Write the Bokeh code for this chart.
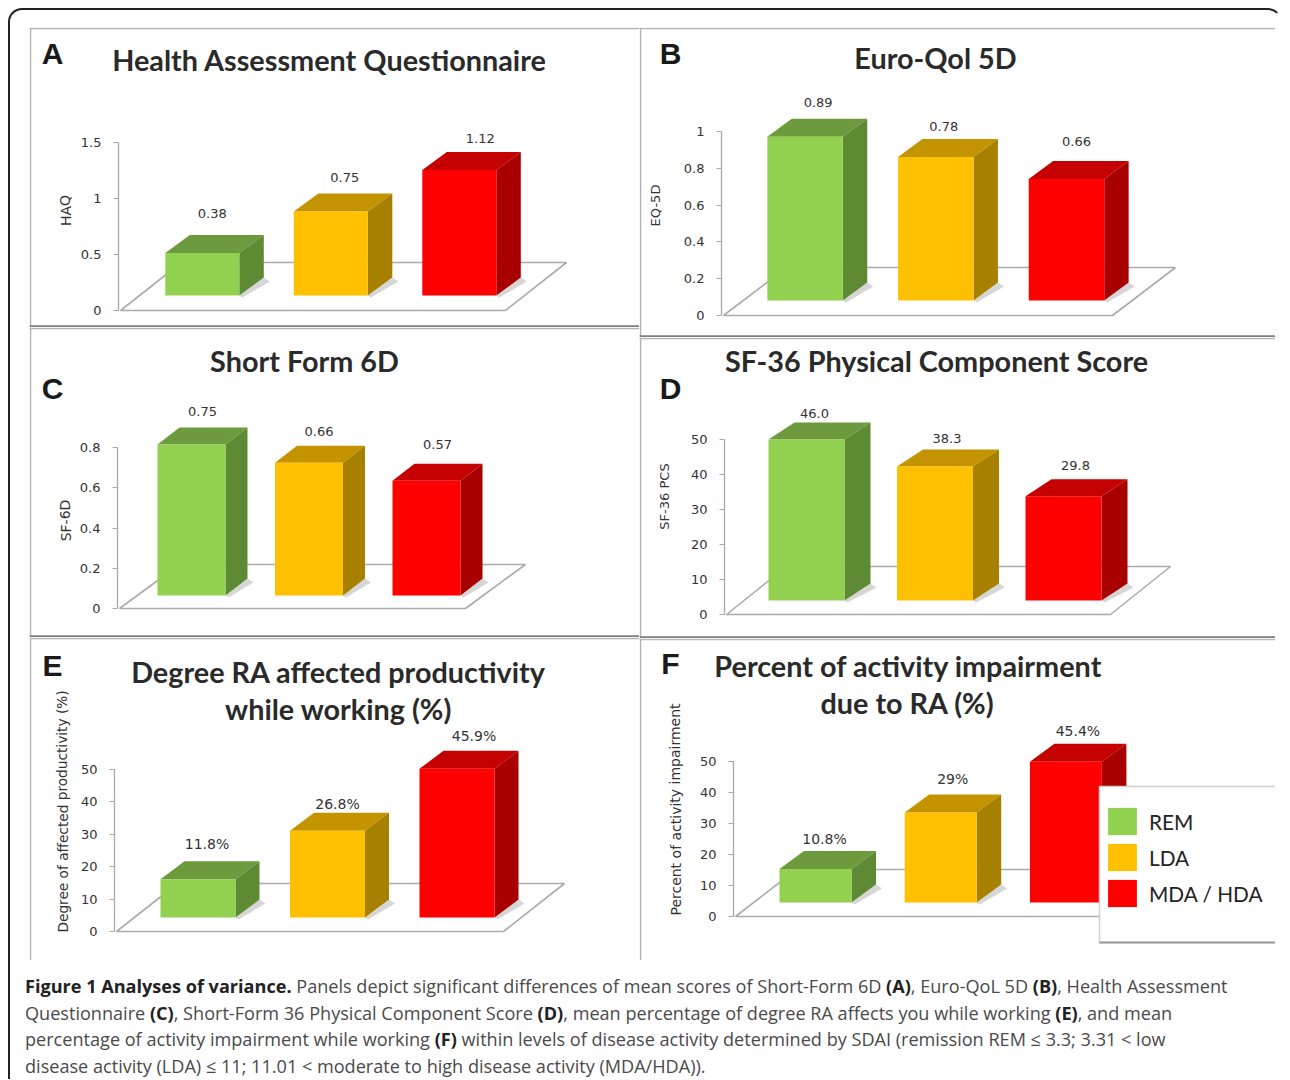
from bokeh.plotting import figure
from bokeh.layouts import column, row
from bokeh.models import Range1d, FixedTicker, Div, Legend
from bokeh.core.properties import value
from bokeh.embed import file_html
from bokeh.resources import INLINE

# ---- data ----
groups = ["REM", "LDA", "MDA / HDA"]
haq_values = [0.38, 0.75, 1.12]
eq5d_values = [0.89, 0.78, 0.66]
sf6d_values = [0.75, 0.66, 0.57]
pcs_values = [46.0, 38.3, 29.8]
productivity_values = [11.8, 26.8, 45.9]
impairment_values = [10.8, 29.0, 45.4]

haq_labels = ["0.38", "0.75", "1.12"]
eq5d_labels = ["0.89", "0.78", "0.66"]
sf6d_labels = ["0.75", "0.66", "0.57"]
pcs_labels = ["46.0", "38.3", "29.8"]
productivity_labels = ["11.8%", "26.8%", "45.9%"]
impairment_labels = ["10.8%", "29%", "45.4%"]

haq_ticks = [0, 0.5, 1, 1.5]
haq_ticklabels = ["0", "0.5", "1", "1.5"]
eq5d_ticks = [0, 0.2, 0.4, 0.6, 0.8, 1]
eq5d_ticklabels = ["0", "0.2", "0.4", "0.6", "0.8", "1"]
sf6d_ticks = [0, 0.2, 0.4, 0.6, 0.8]
sf6d_ticklabels = ["0", "0.2", "0.4", "0.6", "0.8"]
pct_ticks = [0, 10, 20, 30, 40, 50]
pct_ticklabels = ["0", "10", "20", "30", "40", "50"]

FRONT = ["#92D050", "#FFC000", "#FF0000"]
TOP = ["#6C9A3C", "#C49400", "#C40000"]
SIDE = ["#5E8A34", "#A88000", "#A80000"]
TITLE_FONT = "Lato"
NUM_FONT = "DejaVu Sans"
TXT = "#2a2a2a"
TS = "28.8px"


def panel(left, right, top, bottom, axis_x, y0, ymax_px, ymax, ticks, ticklabels, first_c, step,
          bar_w, bar_bottom, dx, dy, floor, vals, labels, label_off, title_lines, letter, letter_xy,
          ylabel, ylabel_xy, ylabel_size, num_size="13px", edges=("left", "top", "bottom")):
    s = (y0 - ymax_px) / ymax
    X = lambda px: (px - first_c) / step
    Y = lambda py: (y0 - py) / s
    p = figure(width=right - left, height=bottom - top, output_backend="svg", toolbar_location=None,
               x_range=Range1d(X(left), X(right)), y_range=Range1d(Y(bottom), Y(top)),
               x_axis_location=None, min_border=0, min_border_left=0, min_border_right=0,
               min_border_top=0, min_border_bottom=0, background_fill_color="white",
               border_fill_color="white", outline_line_color=None, tools="")
    p.grid.visible = False
    ax = p.yaxis[0]
    ax.fixed_location = X(axis_x)
    ax.ticker = FixedTicker(ticks=ticks)
    ax.major_label_overrides = dict(zip(ticks, ticklabels))
    ax.bounds = (0, ymax)
    ax.axis_line_color = "#a8a8a8"
    ax.axis_line_width = 1.3
    ax.major_tick_line_color = "#a8a8a8"
    ax.major_tick_out = 5
    ax.major_tick_in = 0
    ax.minor_tick_line_color = None
    ax.major_label_text_font = NUM_FONT
    ax.major_label_text_font_size = "13px"
    ax.major_label_text_color = "#333333"
    ax.major_label_standoff = 12

    # panel frame lines
    e = 1
    lines = {"left": ([left + e, left + e], [top, bottom]),
             "top": ([left, right], [top + e, top + e]),
             "bottom": ([left, right], [bottom - e, bottom - e])}
    for name in edges:
        xs, ys = lines[name]
        p.line([X(v) for v in xs], [Y(v) for v in ys],
               line_color="#7f7f7f" if name == "bottom" else "#b4b4b4",
               line_width=2.5 if name == "bottom" else 1.5)

    # floor of the 3D chart
    fl, fr, br, by = floor
    floor_x = [X(axis_x + 2), X(fr), X(br), X(axis_x + 2 + (br - fr))]
    floor_y = [0, 0, Y(by), Y(by)]
    p.patch(floor_x, floor_y, fill_color="white", line_color="#ababab", line_width=1.6)

    base = Y(bar_bottom)
    w = bar_w / step
    ddx = dx / step
    ddy = dy / s
    fronts = []
    for i, v in enumerate(vals):
        lft, rgt, tp = i - w / 2, i + w / 2, base + v
        # soft shadow on the floor
        p.patch([rgt, rgt + ddx, rgt + ddx + 6 / step, rgt + 3 / step],
                [base, base + ddy, base + ddy - 4 / s, base - 2 / s],
                fill_color="#d6d6d6", line_color=None)
        p.patch([lft, rgt, rgt + ddx, lft + ddx], [tp, tp, tp + ddy, tp + ddy],
                fill_color=TOP[i], line_color=None)
        p.patch([rgt, rgt + ddx, rgt + ddx, rgt], [base, base + ddy, tp + ddy, tp],
                fill_color=SIDE[i], line_color=None)
        fronts.append(p.vbar(x=[i], width=w, bottom=[base], top=[tp], fill_color=FRONT[i], line_color=None))
        ox, oy = label_off[i]
        p.text(x=[i + ox / step], y=[tp + oy / s], text=[labels[i]], text_font=value(NUM_FONT),
               text_font_size=num_size, text_color="#333333", text_align="center", text_baseline="middle")

    for txt, (cx, cy), size in title_lines:
        p.text(x=[X(cx)], y=[Y(cy)], text=[txt], text_font=value(TITLE_FONT), text_font_size=size,
               text_font_style="bold", text_color=TXT, text_align="center", text_baseline="middle")
    p.text(x=[X(letter_xy[0])], y=[Y(letter_xy[1])], text=[letter], text_font=value("Liberation Sans"),
           text_font_size="30px", text_font_style="bold", text_color="#1a1a1a",
           text_align="center", text_baseline="middle")
    p.text(x=[X(ylabel_xy[0])], y=[Y(ylabel_xy[1])], text=[ylabel], text_font=value(NUM_FONT),
           text_font_size=ylabel_size, text_color="#333333", text_align="center", text_baseline="middle",
           angle=1.5708)
    return p, fronts, X, Y


pA, _, _, _ = panel(29, 639, 27, 327, 118, 310, 142, 1.5, haq_ticks, haq_ticklabels, 201.8, 128.5, 74, 295, 24.5, 18,
                    (120, 505, 566, 262), haq_values, haq_labels, [(10, 39), (14, 34), (21, 32)],
                    [("Health Assessment Questionnaire", (329, 59), TS)], "A", (52, 53), "HAQ", (65, 210), "14px")
pC, _, _, _ = panel(29, 639, 327, 637, 117, 608, 447, 0.8, sf6d_ticks, sf6d_ticklabels, 191, 117.5, 68, 595, 22, 17,
                    (118, 465, 525, 564), sf6d_values, sf6d_labels, [(11, 33), (10, 31), (11, 36)],
                    [("Short Form 6D", (304, 360), TS)], "C", (52, 388), "SF-6D", (65, 520), "14px")
pE, _, _, _ = panel(29, 639, 637, 960, 114, 931, 769, 50, pct_ticks, pct_ticklabels, 197.5, 129.5, 75, 917, 24, 18,
                    (115, 503, 564, 883), productivity_values, productivity_labels, [(9, 35), (10, 27), (17, 33)],
                    [("Degree RA affected productivity", (338, 671), TS), ("while working (%)", (338, 708), TS)],
                    "E", (52, 665), "Degree of affected productivity (%)", (62, 811), "13.7px", "14px", ("left", "top"))
pB, _, _, _ = panel(639, 1275, 27, 337, 721, 315, 131, 1, eq5d_ticks, eq5d_ticklabels, 804.6, 130.7, 75.5, 300, 24.4, 18,
                    (722, 1112, 1175, 267), eq5d_values, eq5d_labels, [(13, 34), (8, 30), (10, 38)],
                    [("Euro-Qol 5D", (935, 57), TS)], "B", (670, 53), "EQ-5D", (655, 205), "13px")
pD, _, _, _ = panel(639, 1275, 337, 638, 724, 614, 439, 50, pct_ticks, pct_ticklabels, 806, 128.5, 76, 600, 26, 17,
                    (725, 1110, 1170, 566), pcs_values, pcs_labels, [(8, 26), (12, 28), (12, 31)],
                    [("SF-36 Physical Component Score", (936, 360), TS)], "D", (670, 388), "SF-36 PCS", (664, 496), "13px")
pF, fronts, XF, YF = panel(639, 1275, 638, 960, 733, 916, 761, 50, pct_ticks, pct_ticklabels, 815, 125.2, 72, 902, 24.5, 18,
                    (735, 1100, 1161, 869), impairment_values, impairment_labels, [(9, 30), (12, 34), (12, 31)],
                    [("Percent of activity impairment", (908, 665), TS), ("due to RA (%)", (907, 702), TS)],
                    "F", (670, 663), "Percent of activity impairment", (675, 809), "14px", "14px", ("left", "top"))

# legend box of panel F
pF.quad(left=[XF(1099)], right=[XF(1290)], top=[YF(786)], bottom=[YF(942)], fill_color="white",
        line_color="#cfcfcf", line_width=1.5)
pF.line([XF(1099), XF(1275)], [YF(942), YF(942)], line_color="#9a9a9a", line_width=2)
legend = Legend(items=[(groups[i], [fronts[i]]) for i in range(3)], location=(460, 45),
                background_fill_alpha=0, border_line_alpha=0, padding=5, margin=0, spacing=2,
                glyph_width=36, glyph_height=34, label_standoff=9, label_height=34,
                label_text_font=TITLE_FONT, label_text_font_size="20.8px", label_text_color="#222222")
pF.add_layout(legend)

caption_html = (
    "<b style='color:#222'>Figure 1 Analyses of variance.</b> Panels depict significant differences of mean scores of "
    "Short-Form 6D <b style='color:#222'>(A)</b>, Euro-QoL 5D <b style='color:#222'>(B)</b>, Health Assessment<br>"
    "Questionnaire <b style='color:#222'>(C)</b>, Short-Form 36 Physical Component Score <b style='color:#222'>(D)</b>, "
    "mean percentage of degree RA affects you while working <b style='color:#222'>(E)</b>, and mean<br>"
    "percentage of activity impairment while working <b style='color:#222'>(F)</b> within levels of disease activity "
    "determined by SDAI (remission REM ≤ 3.3; 3.31 &lt; low<br>"
    "disease activity (LDA) ≤ 11; 11.01 &lt; moderate to high disease activity (MDA/HDA))."
)
caption = Div(text=caption_html, width=1250, height=88, margin=(0, 0, 0, 15),
              styles={"font-family": "'Open Sans'", "font-size": "18.1px", "line-height": "26.6px",
                      "color": "#4a4a4a", "white-space": "nowrap"})

grid = row(column(pA, pC, pE, spacing=0), column(pB, pD, pF, spacing=0), spacing=0, margin=(17, 0, 13, 19))
root = column(grid, caption, spacing=0, width=1274, height=1071, margin=(8, 0, 0, 8),
              styles={"border-left": "2px solid #222", "border-top": "2px solid #222",
                      "border-right": "2px solid transparent",
                      "border-top-left-radius": "14px", "border-top-right-radius": "14px",
                      "box-sizing": "border-box"})

open("out.html", "w").write(file_html(root, INLINE))
